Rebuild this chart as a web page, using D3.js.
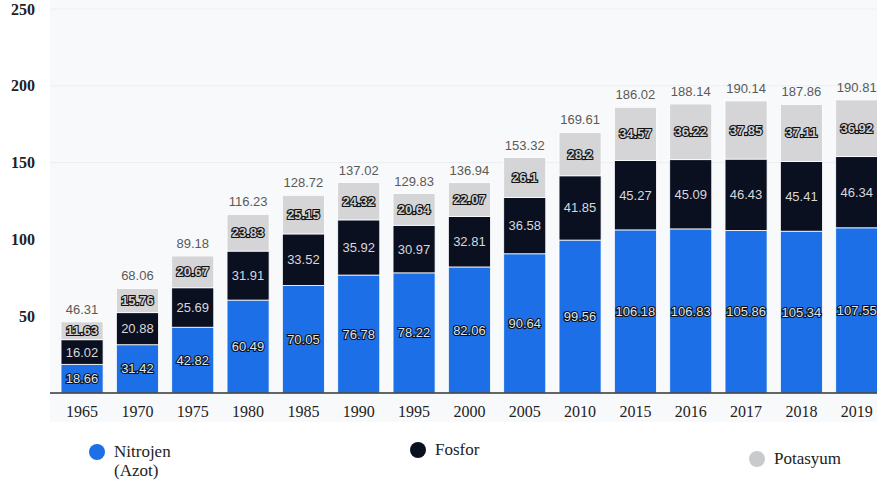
<!DOCTYPE html>
<html>
<head>
<meta charset="utf-8">
<script src="https://cdn.jsdelivr.net/npm/d3@7"></script>
<style>
body { margin: 0; background: #fff; }
svg { display: block; }
</style>
</head>
<body>
<svg id="chart" width="877" height="484"></svg>
<script>
// values (million tonnes)
var years = ["1965","1970","1975","1980","1985","1990","1995","2000","2005","2010","2015","2016","2017","2018","2019"];
var nitrojen = [18.66,31.42,42.82,60.49,70.05,76.78,78.22,82.06,90.64,99.56,106.18,106.83,105.86,105.34,107.55];
var fosfor = [16.02,20.88,25.69,31.91,33.52,35.92,30.97,32.81,36.58,41.85,45.27,45.09,46.43,45.41,46.34];
var potasyum = [11.63,15.76,20.67,23.83,25.15,24.32,20.64,22.07,26.1,28.2,34.57,36.22,37.85,37.11,36.92];
var totals = [46.31,68.06,89.18,116.23,128.72,137.02,129.83,136.94,153.32,169.61,186.02,188.14,190.14,187.86,190.81];
var yTicks = [50,100,150,200,250];
var keys = ["Nitrojen","Fosfor","Potasyum"];

var svg = d3.select("#chart"),
	width = +svg.attr("width"),
	height = +svg.attr("height");

var colors = {Nitrojen: "#1c6fe6", Fosfor: "#0b1020", Potasyum: "#d5d5d7"};

var data = years.map(function(y, i) {
	return {year: y, Nitrojen: nitrojen[i], Fosfor: fosfor[i], Potasyum: potasyum[i], total: totals[i]};
});

var x = d3.scaleBand()
	.domain(years)
	.range([54.4, 884.4])
	.paddingInner(0.24)
	.paddingOuter(0.12);

var y = d3.scaleLinear()
	.domain([0, 250])
	.range([393, 9]);

// plot background
svg.append("rect")
	.attr("x", 50).attr("y", 0)
	.attr("width", width - 50).attr("height", 422)
	.attr("fill", "#f8f9fb");

// grid
svg.append("g")
	.selectAll("line")
	.data([150, 200, 250])
	.enter().append("line")
		.attr("x1", 50).attr("x2", width)
		.attr("y1", function(d) { return y(d); })
		.attr("y2", function(d) { return y(d); })
		.attr("stroke", "#eceef2")
		.attr("stroke-width", 1);

var stack = d3.stack().keys(keys)(data);

var layer = svg.append("g")
	.selectAll("g")
	.data(stack)
	.enter().append("g")
		.attr("fill", function(d) { return colors[d.key]; });

layer.selectAll("rect")
	.data(function(d) { return d; })
	.enter().append("rect")
		.attr("x", function(d) { return x(d.data.year); })
		.attr("y", function(d) { return y(d[1]); })
		.attr("width", x.bandwidth())
		.attr("height", function(d) { return y(d[0]) - y(d[1]); })
		.attr("stroke", "#ffffff")
		.attr("stroke-width", 0.8);

// segment labels
var labels = svg.append("g")
	.attr("font-family", "Liberation Sans, Arial, sans-serif")
	.attr("font-size", 13)
	.attr("text-anchor", "middle");

stack.forEach(function(s) {
	var outlined = s.key != "Fosfor";
	labels.selectAll("text.l-" + s.key)
		.data(s)
		.enter().append("text")
			.attr("class", "l-" + s.key)
			.attr("x", function(d) { return x(d.data.year) + x.bandwidth() / 2; })
			.attr("y", function(d) { return (y(d[0]) + y(d[1])) / 2; })
			.attr("dy", "0.35em")
			.attr("fill", outlined ? (s.key == "Potasyum" ? "#cfcfcf" : "#dce6f5") : "#d8d8dc")
			.attr("stroke", outlined ? "#111" : "none")
			.attr("stroke-width", outlined ? 2.2 : 0)
			.attr("paint-order", "stroke")
			.attr("font-weight", s.key == "Potasyum" ? "bold" : "normal")
			.text(function(d) { return d[1] - d[0] > 0 ? (s.key == "Nitrojen" ? d.data.Nitrojen : s.key == "Fosfor" ? d.data.Fosfor : d.data.Potasyum) : ""; });
});

// totals above bars
svg.append("g")
	.selectAll("text")
	.data(data)
	.enter().append("text")
		.attr("x", function(d) { return x(d.year) + x.bandwidth() / 2; })
		.attr("y", function(d) { return y(d.total) - 8; })
		.attr("text-anchor", "middle")
		.attr("font-family", "Liberation Sans, Arial, sans-serif")
		.attr("font-size", 13)
		.attr("fill", "#5a5a5a")
		.text(function(d) { return d.total; });

// x axis
var xAxis = svg.append("g")
	.attr("transform", "translate(0,393)")
	.call(d3.axisBottom(x).tickSize(0).tickPadding(13));
xAxis.select(".domain").remove();
xAxis.append("line")
	.attr("x1", 50).attr("x2", width)
	.attr("stroke", "#333").attr("stroke-width", 1.5);
xAxis.selectAll("text")
	.attr("font-family", "Liberation Serif, Times New Roman, serif")
	.attr("font-size", 16)
	.attr("fill", "#222");

// y axis labels
var yAxis = svg.append("g")
	.attr("transform", "translate(35,0)")
	.call(d3.axisLeft(y).tickValues(yTicks).tickSize(0).tickPadding(0));
yAxis.select(".domain").remove();
yAxis.selectAll("text")
	.attr("font-family", "Liberation Serif, Times New Roman, serif")
	.attr("font-size", 16)
	.attr("font-weight", "bold")
	.attr("fill", "#222");

// legend
var legend = [
	{key: "Nitrojen", lines: ["Nitrojen", "(Azot)"], cx: 97, cy: 452},
	{key: "Fosfor", lines: ["Fosfor"], cx: 418, cy: 450},
	{key: "Potasyum", lines: ["Potasyum"], cx: 757, cy: 459}
];
var lg = svg.append("g")
	.selectAll("g")
	.data(legend)
	.enter().append("g");
lg.append("circle")
	.attr("cx", function(d) { return d.cx; })
	.attr("cy", function(d) { return d.cy; })
	.attr("r", 8)
	.attr("fill", function(d) { return d.key == "Potasyum" ? "#c9cacc" : colors[d.key]; });
lg.each(function(d) {
	var t = d3.select(this).append("text")
		.attr("font-family", "Liberation Serif, Times New Roman, serif")
		.attr("font-size", 17)
		.attr("fill", "#222");
	d.lines.forEach(function(s, i) {
		t.append("tspan")
			.attr("x", d.cx + 17)
			.attr("y", d.cy + 5 + i * 19)
			.text(s);
	});
});
</script>
</body>
</html>
